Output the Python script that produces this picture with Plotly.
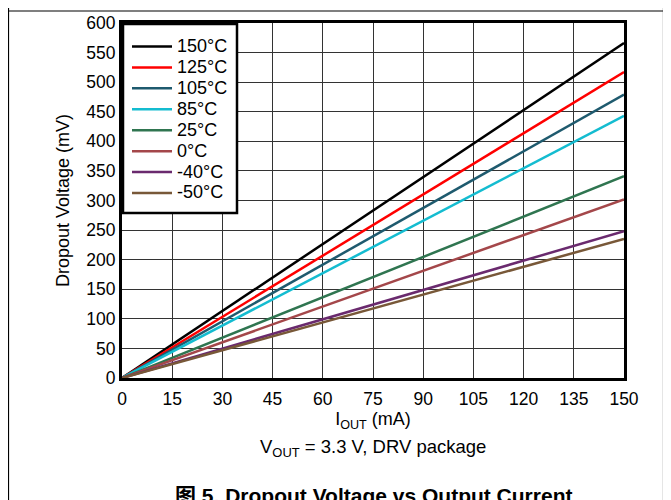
import plotly.graph_objects as go

iout = [0, 150]
series_names = ["150°C", "125°C", "105°C", "85°C", "25°C", "0°C", "-40°C", "-50°C"]
dropout_mv = [
    [0, 566],
    [0, 517],
    [0, 479],
    [0, 443],
    [0, 341],
    [0, 302],
    [0, 248],
    [0, 235],
]
colors = ["#000000", "#FF0000", "#1E5A6E", "#14BCD0", "#2F7550", "#A4474A", "#6A2A6E", "#785838"]
x_ticks = list(range(0, 151, 15))
y_ticks = list(range(0, 601, 50))

FONT = "Liberation Sans, Arial, sans-serif"

fig = go.Figure()
for name, ys, c in zip(series_names, dropout_mv, colors):
    fig.add_trace(go.Scatter(x=iout, y=ys, mode="lines",
                             name='<span style="font-size:18px">%s</span>' % name,
                             line=dict(color=c, width=2.5)))

# page coordinates of the plot area (page has an 8px body margin)
OFF = 8
L, R, T, B = 122, 624, 23, 378
W, H = 663, 492
pw, ph = R - L, B - T

def px(x):
    return (x - L) / pw

def py(y):
    return (B - y) / ph

fig.update_layout(
    width=W, height=H,
    margin=dict(l=L - OFF, r=W - (R - OFF), t=T - OFF, b=H - (B - OFF), pad=0),
    paper_bgcolor="white", plot_bgcolor="white",
    font=dict(family=FONT, size=17, color="black"),
    showlegend=True,
    legend=dict(x=px(127), y=py(31), xanchor="left", yanchor="top",
                bgcolor="rgba(0,0,0,0)", borderwidth=0,
                font=dict(size=13.8), tracegroupgap=0, itemwidth=40),
    xaxis=dict(range=[0, 150], tickvals=x_ticks, showgrid=True, automargin=False,
               gridcolor="#333", gridwidth=1, zeroline=False,
               showline=True, linecolor="black", linewidth=3, mirror=True,
               ticks="", tickfont=dict(size=17.5), ticklabelstandoff=3,
               title=dict(text="I<sub>OUT</sub> (mA)", font=dict(size=18), standoff=5)),
    yaxis=dict(range=[0, 600], tickvals=y_ticks, showgrid=True, automargin=False,
               gridcolor="#333", gridwidth=1, zeroline=False,
               showline=True, linecolor="black", linewidth=3, mirror=True,
               ticks="", tickfont=dict(size=17.5),
               title=dict(text="Dropout Voltage (mV)", font=dict(size=18), standoff=12)),
    annotations=[
        dict(text="V<sub>OUT</sub> = 3.3 V, DRV package", xref="paper", yref="paper",
             x=px(373), y=py(448), xanchor="center", yanchor="middle", showarrow=False,
             font=dict(size=18.5)),
        dict(text="<b>图 5. Dropout Voltage vs Output Current</b>", xref="paper", yref="paper",
             x=px(373), y=py(495), xanchor="center", yanchor="middle", showarrow=False,
             font=dict(size=21, family="Liberation Sans, Noto Sans CJK SC, sans-serif")),
    ],
    shapes=[
        # legend box (no trace passes through this corner of the plot)
        dict(type="rect", xref="paper", yref="paper", x0=px(123), x1=px(237), y0=py(213), y1=py(24),
             fillcolor="white", line=dict(color="black", width=2.5), layer="above"),
        # page frame
        dict(type="line", xref="paper", yref="paper", x0=px(8.5), x1=px(8.5), y0=py(0), y1=py(500),
             line=dict(color="black", width=1.2)),
        dict(type="line", xref="paper", yref="paper", x0=px(663.5), x1=px(663.5), y0=py(0), y1=py(500),
             line=dict(color="black", width=1.2)),
        dict(type="line", xref="paper", yref="paper", x0=px(8.5), x1=px(663.5), y0=py(11), y1=py(11),
             line=dict(color="black", width=1.2)),
    ],
)

fig.write_html("out.html")
